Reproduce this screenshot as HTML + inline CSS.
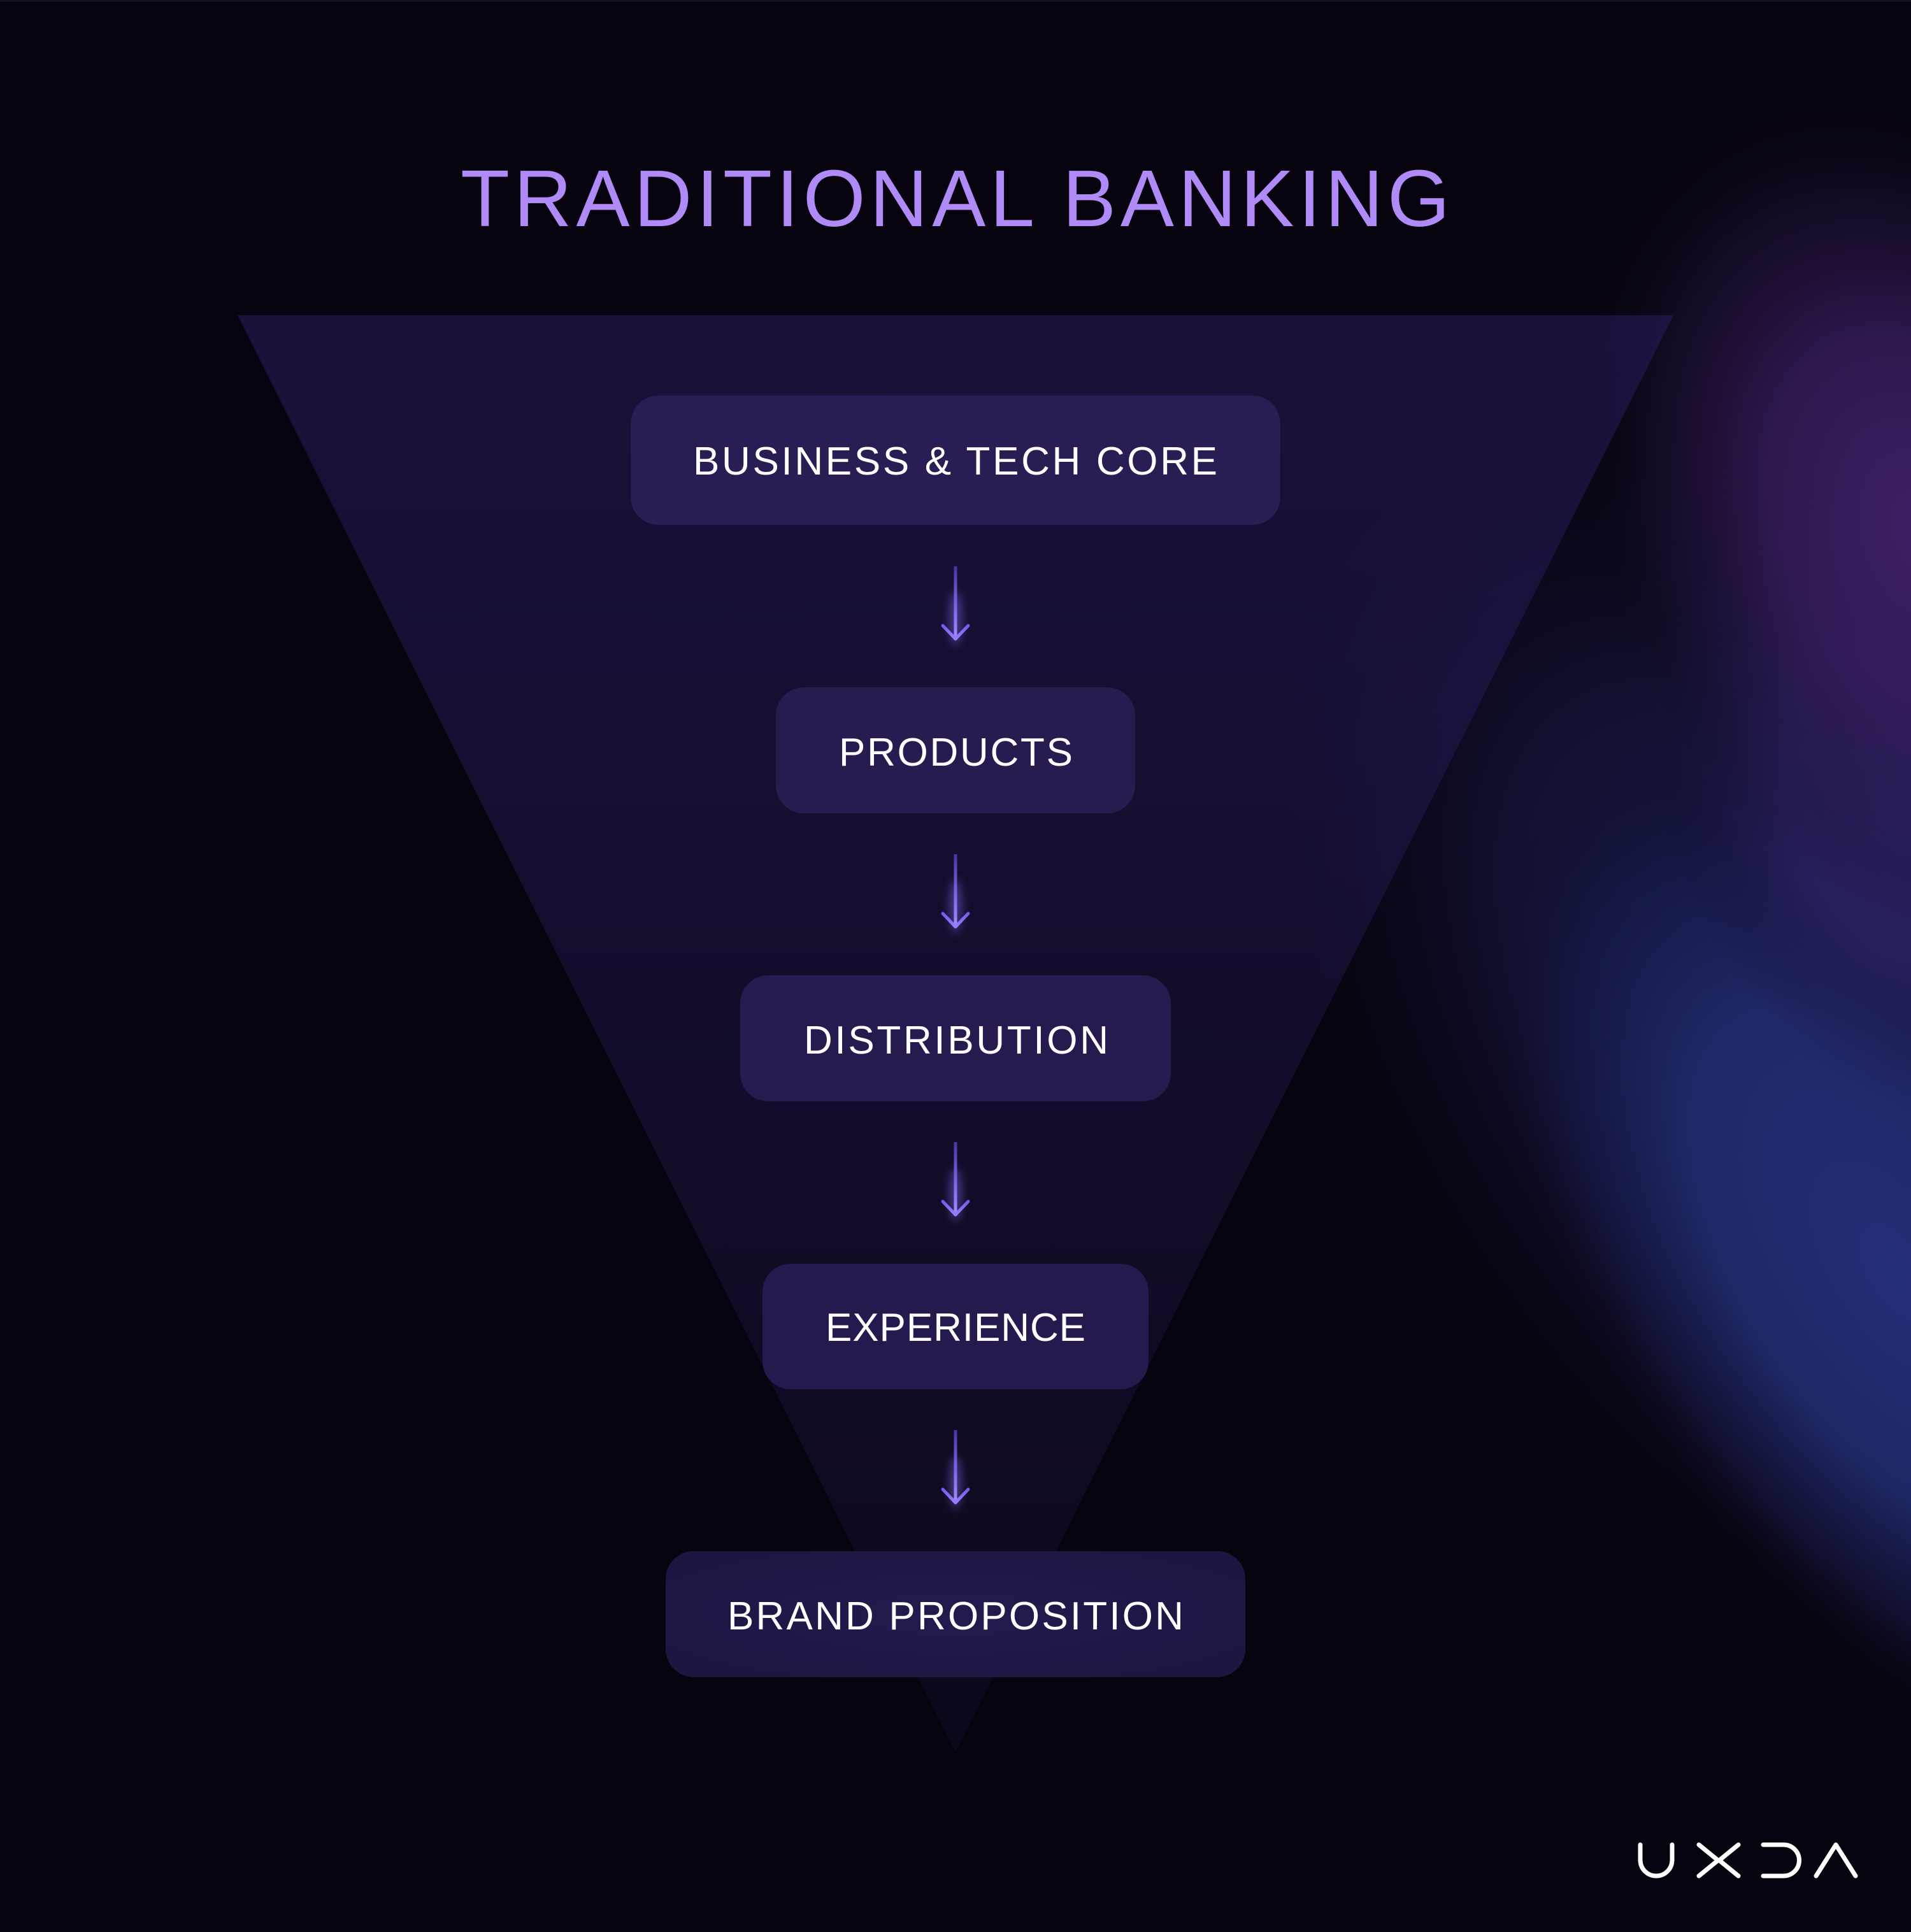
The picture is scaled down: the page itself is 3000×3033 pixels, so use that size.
<!DOCTYPE html>
<html>
<head>
<meta charset="utf-8">
<style>
  html, body { margin: 0; padding: 0; background: #08040f; }
  body { width: 3000px; height: 3033px; overflow: hidden; }
  svg { display: block; }
  text { font-family: "Liberation Sans", "DejaVu Sans", sans-serif; }
</style>
</head>
<body>
<svg width="3000" height="3033" viewBox="0 0 3000 3033" xmlns="http://www.w3.org/2000/svg">
  <defs>
    <radialGradient id="gHaze" cx="0.5" cy="0.5" r="0.5">
      <stop offset="0" stop-color="#1a1c50" stop-opacity="0.95"/>
      <stop offset="0.55" stop-color="#14163e" stop-opacity="0.7"/>
      <stop offset="0.85" stop-color="#0e0d28" stop-opacity="0.3"/>
      <stop offset="1" stop-color="#0a0818" stop-opacity="0"/>
    </radialGradient>
    <radialGradient id="gBlue" cx="0.5" cy="0.5" r="0.5">
      <stop offset="0" stop-color="#252e78" stop-opacity="1"/>
      <stop offset="0.5" stop-color="#222a6c" stop-opacity="0.9"/>
      <stop offset="0.8" stop-color="#181d50" stop-opacity="0.45"/>
      <stop offset="1" stop-color="#0c0a20" stop-opacity="0"/>
    </radialGradient>
    <radialGradient id="gBridge" cx="0.5" cy="0.5" r="0.5">
      <stop offset="0" stop-color="#30266e" stop-opacity="1"/>
      <stop offset="0.5" stop-color="#2a2264" stop-opacity="0.8"/>
      <stop offset="1" stop-color="#141238" stop-opacity="0"/>
    </radialGradient>
    <radialGradient id="gPurple" cx="0.5" cy="0.5" r="0.5">
      <stop offset="0" stop-color="#3e2166" stop-opacity="1"/>
      <stop offset="0.45" stop-color="#331c58" stop-opacity="0.85"/>
      <stop offset="0.78" stop-color="#22123c" stop-opacity="0.45"/>
      <stop offset="1" stop-color="#100818" stop-opacity="0"/>
    </radialGradient>
    <linearGradient id="gTri" x1="0" y1="495" x2="0" y2="2750" gradientUnits="userSpaceOnUse">
      <stop offset="0" stop-color="#2d1c62" stop-opacity="0.52"/>
      <stop offset="0.5" stop-color="#2d1c62" stop-opacity="0.34"/>
      <stop offset="1" stop-color="#2d1c62" stop-opacity="0.16"/>
    </linearGradient>
    <radialGradient id="gBrand" cx="0.5" cy="0.5" r="0.6">
      <stop offset="0" stop-color="#251a4e"/>
      <stop offset="1" stop-color="#1e1541"/>
    </radialGradient>
    <linearGradient id="gArrow" x1="0" y1="0" x2="0" y2="115" gradientUnits="userSpaceOnUse">
      <stop offset="0" stop-color="#4a34a4"/>
      <stop offset="0.6" stop-color="#8468f0"/>
      <stop offset="1" stop-color="#a58eff"/>
    </linearGradient>
    <linearGradient id="gHead" x1="0" y1="90" x2="0" y2="115" gradientUnits="userSpaceOnUse">
      <stop offset="0" stop-color="#7055e8"/>
      <stop offset="1" stop-color="#9a80ff"/>
    </linearGradient>
    <filter id="fGlow" x="-200%" y="-50%" width="500%" height="200%">
      <feGaussianBlur stdDeviation="7"/>
    </filter>
  </defs>

  <!-- background -->
  <rect x="0" y="0" width="3000" height="3033" fill="#08040f"/>
  <rect x="0" y="0" width="3000" height="3" fill="#140e22"/>

  <!-- glows -->
  <ellipse cx="2820" cy="1650" rx="640" ry="1120" fill="url(#gHaze)" transform="rotate(-33 2820 1650)"/>
  <ellipse cx="2980" cy="2000" rx="470" ry="920" fill="url(#gBlue)" transform="rotate(-34 2980 2000)"/>
  <ellipse cx="3000" cy="1260" rx="380" ry="520" fill="url(#gBridge)" transform="rotate(-25 3000 1260)"/>
  <ellipse cx="3020" cy="830" rx="500" ry="700" fill="url(#gPurple)" transform="rotate(-25 3020 830)"/>

  <!-- funnel triangle -->
  <polygon points="373,495 2627,495 1500,2750" fill="url(#gTri)"/>

  <!-- title -->
  <text x="723" y="355" font-size="126" fill="#b08af7" textLength="1553" lengthAdjust="spacing">TRADITIONAL BANKING</text>

  <!-- boxes -->
  <rect x="990" y="621" width="1020" height="203" rx="44" ry="44" fill="#2a1d54"/>
  <rect x="1218" y="1079" width="564" height="198" rx="44" ry="44" fill="#281b50"/>
  <rect x="1162" y="1531" width="676" height="198" rx="44" ry="44" fill="#271a4f"/>
  <rect x="1197" y="1984" width="606" height="197" rx="44" ry="44" fill="#26194d"/>
  <rect x="1045" y="2435" width="910" height="198" rx="44" ry="44" fill="url(#gBrand)"/>

  <!-- box labels -->
  <text x="1088" y="745" font-size="62" fill="#ffffff" textLength="823" lengthAdjust="spacing">BUSINESS &amp; TECH CORE</text>
  <text x="1317" y="1202" font-size="62" fill="#ffffff" textLength="367" lengthAdjust="spacing">PRODUCTS</text>
  <text x="1262" y="1654" font-size="62" fill="#ffffff" textLength="478" lengthAdjust="spacing">DISTRIBUTION</text>
  <text x="1296" y="2105" font-size="62" fill="#ffffff" textLength="408" lengthAdjust="spacing">EXPERIENCE</text>
  <text x="1142" y="2558" font-size="62" fill="#ffffff" textLength="716" lengthAdjust="spacing">BRAND PROPOSITION</text>

  <!-- arrows -->
  <g transform="translate(1500 889)">
    <ellipse cx="0" cy="82" rx="9" ry="42" fill="#8f74ff" opacity="0.45" filter="url(#fGlow)"/>
    <line x1="0" y1="0" x2="0" y2="114" stroke="url(#gArrow)" stroke-width="5" stroke-linecap="butt"/>
    <polyline points="-20,93 0,114 20,93" fill="none" stroke="url(#gHead)" stroke-width="5" stroke-linecap="round" stroke-linejoin="round"/>
  </g>
  <g transform="translate(1500 1341)">
    <ellipse cx="0" cy="82" rx="9" ry="42" fill="#8f74ff" opacity="0.45" filter="url(#fGlow)"/>
    <line x1="0" y1="0" x2="0" y2="114" stroke="url(#gArrow)" stroke-width="5" stroke-linecap="butt"/>
    <polyline points="-20,93 0,114 20,93" fill="none" stroke="url(#gHead)" stroke-width="5" stroke-linecap="round" stroke-linejoin="round"/>
  </g>
  <g transform="translate(1500 1793)">
    <ellipse cx="0" cy="82" rx="9" ry="42" fill="#8f74ff" opacity="0.45" filter="url(#fGlow)"/>
    <line x1="0" y1="0" x2="0" y2="114" stroke="url(#gArrow)" stroke-width="5" stroke-linecap="butt"/>
    <polyline points="-20,93 0,114 20,93" fill="none" stroke="url(#gHead)" stroke-width="5" stroke-linecap="round" stroke-linejoin="round"/>
  </g>
  <g transform="translate(1500 2245)">
    <ellipse cx="0" cy="82" rx="9" ry="42" fill="#8f74ff" opacity="0.45" filter="url(#fGlow)"/>
    <line x1="0" y1="0" x2="0" y2="114" stroke="url(#gArrow)" stroke-width="5" stroke-linecap="butt"/>
    <polyline points="-20,93 0,114 20,93" fill="none" stroke="url(#gHead)" stroke-width="5" stroke-linecap="round" stroke-linejoin="round"/>
  </g>

  <!-- UXDA logo -->
  <g fill="none" stroke="#ffffff" stroke-width="7" stroke-linecap="round" stroke-linejoin="miter">
    <path d="M2575,2896 V2920 A25,25 0 0 0 2625,2920 V2896"/>
    <polyline points="2667,2896 2697,2920.5 2667,2945"/>
    <polyline points="2729,2896 2699,2920.5 2729,2945"/>
    <path d="M2768,2896 H2800 A24.5,24.5 0 0 1 2800,2945 H2768"/>
    <polyline points="2851,2945 2882,2896 2913,2945" stroke-linejoin="round"/>
  </g>
</svg>
</body>
</html>
